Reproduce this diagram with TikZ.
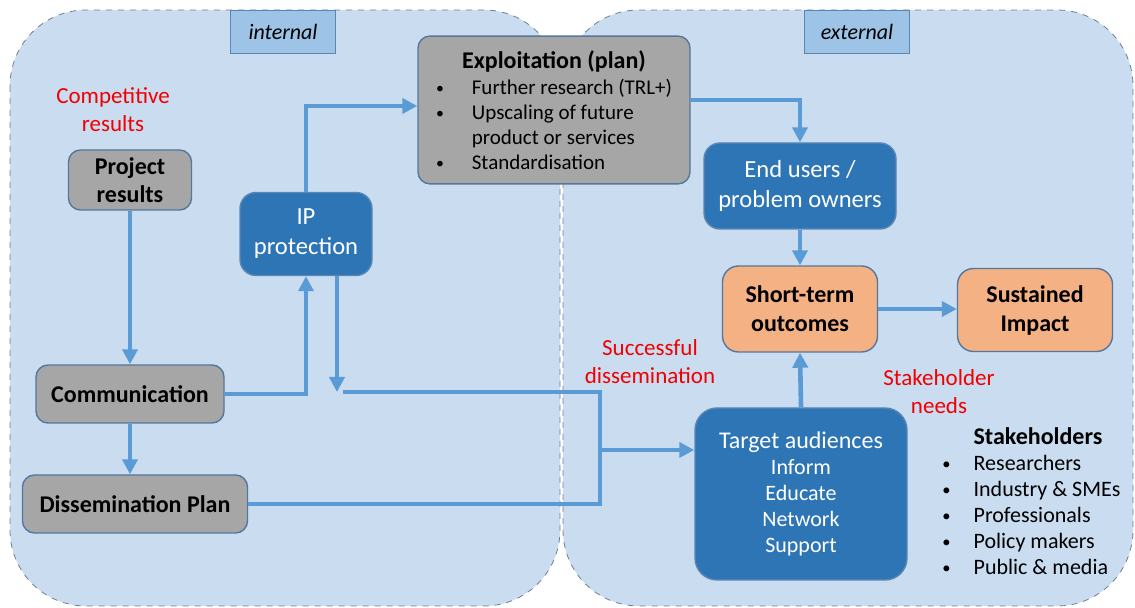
\documentclass[tikz,border=0pt]{standalone}
\usepackage{fontspec}
\setmainfont{Carlito}
\usetikzlibrary{positioning, arrows.meta}
\definecolor{panelfill}{HTML}{C9DCF0}
\definecolor{paneldraw}{HTML}{6F7F92}
\definecolor{tagfill}{HTML}{9DC3E6}
\definecolor{tagdraw}{HTML}{5B86B3}
\definecolor{greyfill}{HTML}{A6A6A6}
\definecolor{boxdraw}{HTML}{56779C}
\definecolor{bluefill}{HTML}{2E75B6}
\definecolor{orangefill}{HTML}{F4B183}
\definecolor{flow}{HTML}{5B9BD5}
\definecolor{notered}{HTML}{F00000}
\newcommand{\dotbullet}{\raisebox{0.4pt}{\scalebox{0.75}{\textbullet}}}
\tikzstyle{panel} = [draw=paneldraw, fill=panelfill, dashed, thin, rounded corners=38pt]
\tikzstyle{tagbox} = [draw=tagdraw, fill=tagfill, line width=0.6pt,
    minimum width=52.5pt, minimum height=21.5pt, font=\fontsize{11}{13}\selectfont\itshape]
\tikzstyle{greybox} = [fill=greyfill, draw=boxdraw, line width=0.7pt, rounded corners=6pt,
    align=center, font=\fontsize{12}{14}\selectfont\bfseries]
\tikzstyle{bluebox} = [fill=bluefill, draw=tagdraw, line width=0.7pt, rounded corners=8pt,
    align=center, text=white, font=\fontsize{12.3}{15}\selectfont]
\tikzstyle{orangebox} = [fill=orangefill, draw=boxdraw, line width=0.7pt, rounded corners=8pt,
    align=center, font=\fontsize{12}{14.5}\selectfont\bfseries]
\tikzstyle{note} = [text=notered, align=center]
\tikzstyle{flowline} = [draw=flow, line width=2.3pt]
\tikzstyle{flowarrow} = [flowline, -{Triangle[length=7.5pt,width=7.5pt]}]

\begin{document}
\begin{tikzpicture}[x=0.5pt,y=-0.5pt,every node/.style={font=\fontsize{11.5}{14}\selectfont}]
	\useasboundingbox (0,0) rectangle (1135,608);

	% the two areas
	\draw[panel] (10,10) rectangle (560,606);
	\draw[panel] (563,10) rectangle (1133,606);
	\node[tagbox] (internal) at (283,32) {internal};
	\node[tagbox] (external) at (857,32) {external};

	% internal side
	\node[greybox, minimum width=61.5pt, minimum height=30pt] (projres) at (130,180) {Project\\results};
	\node[greybox, minimum width=94pt, minimum height=29pt] (comm) at (130,394) {Communication};
	\node[greybox, minimum width=112.5pt, minimum height=29pt] (dissplan) at (135,504) {Dissemination Plan};
	\node[bluebox, minimum width=66pt, minimum height=41.5pt] (ipprot) at (306,234) {IP\\protection};
	\node[greybox, minimum width=136pt, minimum height=72pt, font=\fontsize{10.5}{12.5}\selectfont] (exploit) at (554,110) {%
		\begin{tabular}{@{}l@{\hspace{14pt}}l@{}}
			\multicolumn{2}{c}{\rule{0pt}{13pt}\fontsize{12}{14}\selectfont\bfseries Exploitation (plan)}\\[0.5pt]
			\dotbullet & Further research (TRL+)\\
			\dotbullet & Upscaling of future\\
			           & product or services\\
			\dotbullet & Standardisation
		\end{tabular}};

	% external side
	\node[bluebox, minimum width=96pt, minimum height=43pt] (endusers) at (800,186) {End users /\\problem owners};
	\node[orangebox, minimum width=77.5pt, minimum height=43pt] (shortterm) at (800,309) {Short-term\\outcomes};
	\node[orangebox, minimum width=77.5pt, minimum height=41.5pt] (sustained) at (1035,310) {Sustained\\Impact};
	\node[bluebox, minimum width=106pt, minimum height=86pt, rounded corners=11pt,
		font=\fontsize{11}{13}\selectfont] (target) at (801,494) {%
		{\fontsize{12}{14}\selectfont Target audiences}\\Inform\\Educate\\Network\\Support};

	% red remarks
	\node[note] (competitive) at (113,110) {Competitive\\results};
	\node[note] (successful) at (650,362) {Successful\\dissemination};
	\node[note] (needs) at (939,392) {Stakeholder\\needs};

	% stakeholders
	\node[anchor=north west, inner sep=0pt, font=\fontsize{11}{13}\selectfont] (stakeholders) at (942,426) {%
		\begin{tabular}{@{}l@{\hspace{11.5pt}}l@{}}
			& {\fontsize{12}{14}\selectfont\bfseries Stakeholders}\\
			\dotbullet & Researchers\\
			\dotbullet & Industry \& SMEs\\
			\dotbullet & Professionals\\
			\dotbullet & Policy makers\\
			\dotbullet & Public \& media
		\end{tabular}};

	% connectors
	\coordinate (ipdrop) at (337,392);
	\coordinate (dissstart) at (343,392);
	\coordinate (dissturn) at (600,392);
	\coordinate (branch) at (600,450);

	\draw[flowarrow] (projres.south) -- (projres.south |- comm.north);
	\draw[flowarrow] (comm.south) -- (comm.south |- dissplan.north);
	\draw[flowarrow] (comm.east) -| (ipprot.south);
	\draw[flowarrow] (ipprot.north) |- ([yshift=2pt]exploit.west);
	\draw[flowarrow] ([xshift=15.5pt]ipprot.south) -- (ipdrop);
	\draw[flowline] (dissstart) -- (dissturn) |- (dissplan.east);
	\draw[flowarrow] (branch) -- (branch -| target.west);
	\draw[flowarrow] ([yshift=5pt]exploit.east) -| (endusers.north);
	\draw[flowarrow] (endusers.south) -- (endusers.south |- shortterm.north);
	\draw[flowarrow] (target.north) -- (shortterm.south);
	\draw[flowarrow] (shortterm.east) -- (shortterm.east -| sustained.west);
\end{tikzpicture}
\end{document}
